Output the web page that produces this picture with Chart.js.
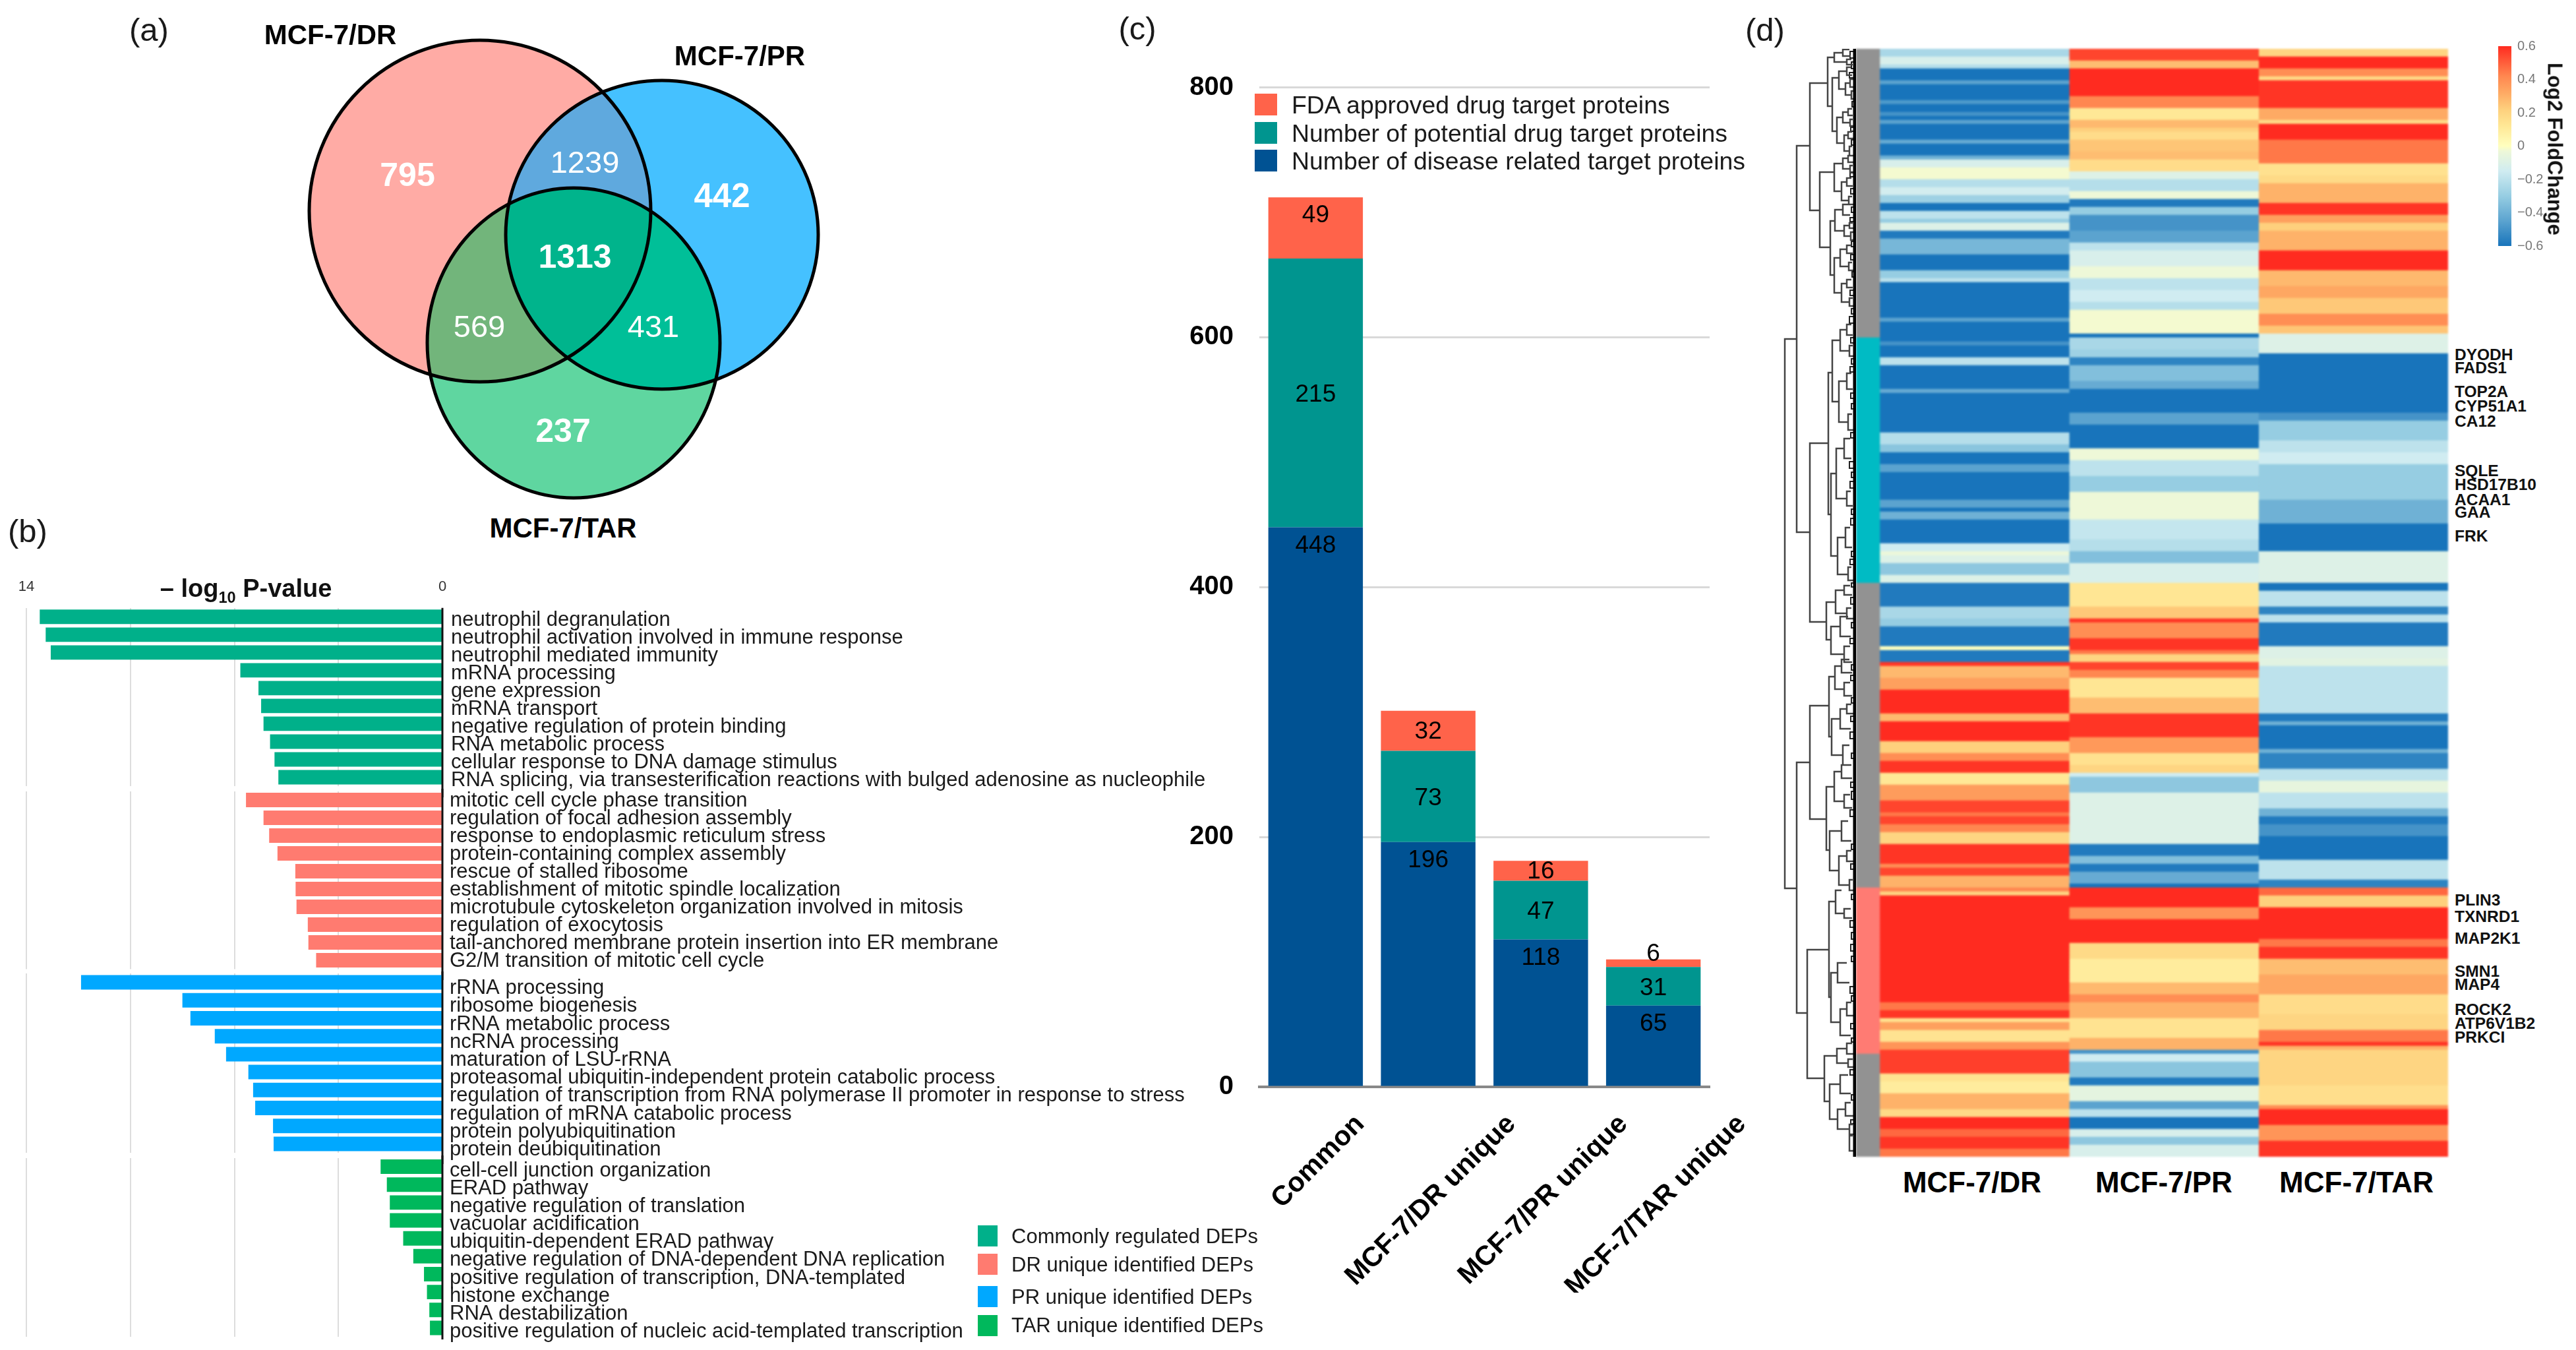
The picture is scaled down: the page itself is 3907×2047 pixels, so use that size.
<!DOCTYPE html>
<html>
<head>
<meta charset="utf-8">
<script src="https://cdn.jsdelivr.net/npm/chart.js@4"></script>
<style>
  html, body { margin: 0; padding: 0; background: #fff; }
  #page { position: relative; width: 3907px; height: 2047px; overflow: hidden; background: #fff; font-family: "Liberation Sans", Arial, sans-serif; }
  #page canvas { position: absolute; }
  .txt { position: absolute; white-space: nowrap; line-height: 1; }
  .swatch { position: absolute; }
</style>
</head>
<body>
<div id="page"></div>
<script>
// (a) venn
const vennRegions = ["DR", "DR+PR", "PR", "DR+PR+TAR", "DR+TAR", "PR+TAR", "TAR"];
const vennCounts = [795, 1239, 442, 1313, 569, 431, 237];
const vennSets = ["MCF-7/DR", "MCF-7/PR", "MCF-7/TAR"];

// (b) GO terms, one list per facet
const goCommonTerms = ["neutrophil degranulation", "neutrophil activation involved in immune response", "neutrophil mediated immunity", "mRNA processing", "gene expression", "mRNA transport", "negative regulation of protein binding", "RNA metabolic process", "cellular response to DNA damage stimulus", "RNA splicing, via transesterification reactions with bulged adenosine as nucleophile"];
const goCommonP = [13.55, 13.35, 13.18, 6.8, 6.19, 6.1, 6.02, 5.8, 5.65, 5.52];
const goDrTerms = ["mitotic cell cycle phase transition", "regulation of focal adhesion assembly", "response to endoplasmic reticulum stress", "protein-containing complex assembly", "rescue of stalled ribosome", "establishment of mitotic spindle localization", "microtubule cytoskeleton organization involved in mitosis", "regulation of exocytosis", "tail-anchored membrane protein insertion into ER membrane", "G2/M transition of mitotic cell cycle"];
const goDrP = [6.61, 6.02, 5.83, 5.55, 4.95, 4.94, 4.91, 4.53, 4.51, 4.25];
const goPrTerms = ["rRNA processing", "ribosome biogenesis", "rRNA metabolic process", "ncRNA processing", "maturation of LSU-rRNA", "proteasomal ubiquitin-independent protein catabolic process", "regulation of transcription from RNA polymerase II promoter in response to stress", "regulation of mRNA catabolic process", "protein polyubiquitination", "protein deubiquitination"];
const goPrP = [12.16, 8.75, 8.48, 7.66, 7.28, 6.53, 6.37, 6.3, 5.7, 5.68];
const goTarTerms = ["cell-cell junction organization", "ERAD pathway", "negative regulation of translation", "vacuolar acidification", "ubiquitin-dependent ERAD pathway", "negative regulation of DNA-dependent DNA replication", "positive regulation of transcription, DNA-templated", "histone exchange", "RNA destabilization", "positive regulation of nucleic acid-templated transcription"];
const goTarP = [2.08, 1.87, 1.77, 1.77, 1.32, 0.98, 0.62, 0.52, 0.44, 0.42];
const goLegend = ["Commonly regulated DEPs", "DR unique identified DEPs", "PR unique identified DEPs", "TAR unique identified DEPs"];

// (c) target proteins
const targetGroups = ["Common", "MCF-7/DR unique", "MCF-7/PR unique", "MCF-7/TAR unique"];
const diseaseTargets = [448, 196, 118, 65];
const potentialTargets = [215, 73, 47, 31];
const fdaTargets = [49, 32, 16, 6];
const targetLegend = ["FDA approved drug target proteins", "Number of potential drug target proteins", "Number of disease related target proteins"];

// (d) heatmap, bands read top to bottom: last row of band + Log2 fold change
const drEnds = [2,4,5,8,9,13,14,16,17,18,19,23,24,27,28,30,33,35,37,39,41,43,44,46,48,52,56,58,59,68,69,74,75,78,80,86,87,97,100,102,105,107,114,116,117,119,125,127,128,130,133,135,141,144,146,151,152,155,156,159,162,168,170,175,178,180,183,186,190,193,194,196,198,201,206,207,209,212,213,214,241,243,245,246,248,251,253,259,261,264,268,270,273,275,278,280];
const drVals = [-.25,-.12,-.22,-.6,-.45,-.6,-.48,-.6,-.5,-.6,-.45,-.6,-.42,-.6,-.4,-.12,-.02,-.22,-.14,-.28,-.6,-.2,-.3,-.1,-.58,-.38,-.6,-.3,-.2,-.6,-.45,-.6,-.5,-.6,-.2,-.6,-.42,-.6,-.22,-.33,-.6,-.45,-.6,-.45,-.6,-.4,-.6,-.15,-.04,-.1,-.32,-.1,-.58,-.25,-.3,-.58,0,-.58,.58,.28,.35,.6,.28,.6,.22,.4,.58,.12,.36,.55,.45,.55,.42,.2,.58,.4,.55,.3,.42,.2,.6,.45,.58,.15,.35,.14,.38,.56,.14,.1,.3,.18,.6,.48,.58,.45];
const prEnds = [3,5,12,15,18,20,21,23,26,28,31,33,36,38,40,42,46,49,51,55,58,61,64,66,72,73,76,78,80,84,86,92,95,101,104,108,112,119,124,127,130,135,141,144,145,149,152,153,155,157,159,164,168,174,178,181,183,184,188,201,204,206,208,211,212,217,220,226,230,236,239,241,245,250,253,254,256,260,262,266,268,270,273,275,277,280];
const prVals = [.55,.27,.6,.42,.12,.28,.22,.17,.25,.27,.17,-.1,-.22,-.03,-.58,-.3,-.5,-.45,-.2,-.12,-.03,-.2,-.15,-.22,-.02,-.6,-.25,-.28,-.55,-.35,-.42,-.6,-.45,-.6,-.03,-.2,-.3,-.03,-.18,-.22,-.35,-.12,.13,.24,.58,.4,.58,.45,.2,.55,.42,.13,.27,.58,.37,.15,.2,-.15,-.32,-.1,-.58,-.35,-.58,-.42,-.6,.6,.38,.6,.18,.1,.28,.4,.3,.14,.3,-.5,-.15,-.33,-.58,-.07,-.45,-.2,-.6,-.12,-.32,-.12];
const tarEnds = [2,5,7,8,15,18,19,23,29,32,34,39,42,44,46,51,56,60,63,67,70,72,77,92,94,99,102,105,114,120,127,135,137,141,143,145,151,154,156,168,170,171,177,178,182,185,188,192,194,196,199,205,210,212,214,217,225,227,230,234,239,244,248,251,252,253,262,267,268,272,276,280];
const tarVals = [.2,.6,.4,.18,.58,.32,.18,.6,.45,.15,.18,.3,.58,.35,.22,.3,.6,.28,.33,.24,.4,.25,-.1,-.6,-.5,-.3,-.2,-.15,-.3,-.4,-.6,-.1,-.6,-.2,-.55,-.2,-.58,-.1,-.08,-.2,-.58,-.4,-.6,-.4,-.55,-.2,-.06,-.2,-.4,-.58,-.5,-.6,-.2,-.55,.48,.22,.6,.45,.58,.27,.33,.17,.2,.45,.58,.3,.2,.16,.4,.6,.38,.58];
const clusterEnds = [73, 135, 212, 254, 280];
const clusterColors = ["#929292", "#00BBC4", "#929292", "#FF7B73", "#929292"];
const heatColumns = ["MCF-7/DR", "MCF-7/PR", "MCF-7/TAR"];
const foldTicks = [-0.6, -0.4, -0.2, 0, 0.2, 0.4, 0.6];
const genesA = ["DYODH", "FADS1", "TOP2A", "CYP51A1", "CA12", "SQLE", "HSD17B10", "ACAA1", "GAA", "FRK"];
const genesB = ["PLIN3", "TXNRD1", "MAP2K1", "SMN1", "MAP4", "ROCK2", "ATP6V1B2", "PRKCI"];

// dendrogram links: distance, top leaf pos, bottom leaf pos, distance of top child, of bottom child
const dendroLinks = [
  [108,514,1347,90,90],[90,221,807,70,70],[70,126,319,43,55],[43,87,161,33,36],[33,80,94,20,14],
  [36,118,199,26,29],[26,108,135,14,16],[29,178,217,20,18],[55,261,375,33,39],[33,248,290,20,22],
  [39,335,417,32,33],[32,318,350,20,18],[33,391,444,24,22],[70,672,943,42,45],[42,565,780,36,38],
  [36,516,609,24,26],[38,718,843,30,28],[45,913,970,31,38],[31,895,930,18,14],[38,950,992,24,18],
  [90,1156,1536,70,74],[70,1070,1242,41,45],[41,1026,1117,32,37],[32,1010,1045,22,18],[37,1090,1145,24,20],
  [45,1193,1289,33,40],[33,1170,1215,22,18],[40,1260,1320,22,26],[74,1440,1635,41,48],[41,1367,1512,31,38],
  [31,1350,1385,22,18],[38,1475,1550,28,24],[48,1601,1670,29,40],[29,1590,1612,14,12],[40,1644,1697,24,28],
  [20,75,85,10,8],[14,90,98,7,5],[14,102,114,8,6],[16,126,144,9,7],[9,120,132,4,4],[7,138,150,4,4],
  [20,170,186,12,9],[12,165,175,6,5],[9,181,191,5,4],[18,205,229,12,10],[12,200,210,6,4],[10,222,236,6,4],
  [20,240,256,12,9],[12,236,246,6,4],[9,251,261,5,4],[22,276,304,14,11],[14,270,282,7,5],[11,298,310,6,4],
  [20,310,326,12,9],[18,342,358,10,8],[10,338,346,5,4],[8,352,364,4,4],[24,378,404,14,11],[14,372,384,7,5],
  [11,398,410,6,4],[22,430,458,14,10],[14,424,436,7,5],[10,452,464,5,4],[24,500,532,14,10],[14,492,508,7,5],
  [10,524,540,5,4],[26,578,640,14,12],[14,566,590,7,5],[12,628,652,6,4],[30,680,756,18,14],[18,665,695,9,7],
  [14,745,767,8,5],[28,815,871,16,12],[16,800,830,9,6],[12,860,880,7,4],[18,888,902,9,6],[14,922,938,7,4],
  [24,935,965,12,8],[18,980,1004,9,6],[22,1000,1020,10,6],[18,1035,1055,9,6],[24,1075,1105,14,8],[14,1068,1082,7,4],
  [20,1130,1160,10,7],[22,1160,1180,10,6],[18,1205,1225,9,6],[22,1245,1275,12,7],[26,1298,1342,14,10],[14,1290,1306,7,4],
  [10,1334,1350,5,4],[18,1378,1392,8,6],[28,1460,1490,14,10],[24,1530,1570,14,8],[14,1520,1540,7,4],[14,1582,1598,6,4],
  [12,1606,1618,5,4],[24,1630,1658,12,8],[28,1682,1712,16,10],[16,1672,1692,8,4],[10,1705,1720,5,4],[10,1722,1745,5,3]
];
// finest twigs next to the leaves
const dendroTwigs = [
  [9,78,88,3,3],[7,94,104,3,3],[10,110,118,4,3],[6,154,162,3,3],[8,193,199,3,3],[7,212,220,3,3],[9,262,268,4,3],[8,286,294,3,3],
  [7,314,322,3,3],[9,330,336,4,3],[7,366,374,3,3],[8,386,394,3,3],[6,412,420,3,3],[9,440,448,4,3],[7,468,476,3,3],[10,480,490,4,3],
  [8,512,520,3,3],[7,544,552,3,3],[9,556,564,4,3],[8,596,604,3,3],[7,612,620,3,3],[8,656,664,3,3],[10,700,710,4,3],[7,716,724,3,3],
  [9,730,740,4,3],[7,772,780,3,3],[8,786,796,3,3],[7,836,844,3,3],[9,848,856,4,3],[7,884,890,3,3],[8,906,916,3,3],[7,944,952,3,3],
  [9,968,976,4,3],[7,1008,1016,3,3],[8,1024,1032,3,3],[7,1058,1066,3,3],[8,1086,1094,3,3],[9,1110,1120,4,3],[7,1142,1150,3,3],[8,1186,1194,3,3],
  [7,1200,1212,3,3],[9,1228,1238,4,3],[7,1280,1288,3,3],[8,1310,1318,3,3],[7,1356,1364,3,3],[9,1396,1406,4,3],[7,1414,1424,3,3],[8,1432,1442,3,3],
  [7,1450,1458,3,3],[9,1496,1506,4,3],[7,1510,1518,3,3],[8,1552,1560,3,3],[7,1574,1580,3,3],[9,1622,1630,4,3],[7,1660,1668,3,3],[8,1698,1704,3,3]
];

const FONT = '"Liberation Sans", Arial, sans-serif';
Chart.defaults.font.family = FONT;
Chart.defaults.animation = false;
Chart.defaults.responsive = false;
Chart.defaults.devicePixelRatio = 1;
Chart.defaults.plugins.legend.display = false;
Chart.defaults.plugins.tooltip.enabled = false;

const page = document.getElementById("page");

function addCanvas(left, top, width, height) {
  const c = document.createElement("canvas");
  c.width = width;
  c.height = height;
  c.style.left = left + "px";
  c.style.top = top + "px";
  c.style.width = width + "px";
  c.style.height = height + "px";
  page.appendChild(c);
  return c;
}

// anchor: "c" centre on x,y / "l" left edge at x, centred on y
function addText(html, x, y, size, opts = {}) {
  const d = document.createElement("div");
  d.className = "txt";
  d.innerHTML = html;
  d.style.left = x + "px";
  d.style.top = y + "px";
  d.style.fontSize = size + "px";
  d.style.fontWeight = opts.bold ? "bold" : "normal";
  d.style.color = opts.color || "#1a1a1a";
  const rot = opts.rotate ? " rotate(" + opts.rotate + "deg)" : "";
  d.style.transform = (opts.anchor === "l" ? "translate(0,-50%)" : "translate(-50%,-50%)") + rot;
  page.appendChild(d);
}

function addSwatch(x, y, w, h, color) {
  const d = document.createElement("div");
  d.className = "swatch";
  d.style.cssText = `left:${x}px;top:${y}px;width:${w}px;height:${h}px;background:${color}`;
  page.appendChild(d);
}

// y axis tick labels must not pull the plot area in
function noLabelPadding(scale) {
  scale.paddingTop = 0;
  scale.paddingBottom = 0;
}

addText("(a)", 226, 45, 49);
addText("(b)", 42, 805, 49);
addText("(c)", 1725, 43, 49);
addText("(d)", 2677, 45, 49);

// ---------- (a) venn ----------
const vennShapes = {
  dr: { cx: 728, cy: 320, rx: 259, ry: 259, fill: "#FFABA5" },
  pr: { cx: 1004, cy: 356, rx: 237, ry: 234, fill: "#45C1FF" },
  tar: { cx: 870, cy: 520, rx: 222, ry: 235, fill: "#5FD6A0" }
};
const vennSpots = [[618, 268, 50, true], [887, 249, 47, false], [1095, 300, 51, true], [872, 392, 50, true], [727, 498, 47, false], [991, 498, 47, false], [854, 656, 50, true]];

const vennPlugin = {
  id: "venn",
  beforeDatasetsDraw(chart) {
    const { ctx, scales: { x, y } } = chart;
    const path = (s) => {
      ctx.beginPath();
      ctx.ellipse(x.getPixelForValue(s.cx), y.getPixelForValue(s.cy), s.rx, s.ry, 0, 0, Math.PI * 2);
    };
    const overlap = (list, color) => {
      ctx.save();
      list.forEach((s) => { path(s); ctx.clip(); });
      ctx.fillStyle = color;
      ctx.fillRect(0, 0, chart.width, chart.height);
      ctx.restore();
    };
    const { dr, pr, tar } = vennShapes;
    [dr, pr, tar].forEach((s) => { path(s); ctx.fillStyle = s.fill; ctx.fill(); });
    overlap([dr, pr], "#5FA9DE");
    overlap([dr, tar], "#72B57B");
    overlap([pr, tar], "#00BF98");
    overlap([dr, pr, tar], "#00B48C");
    ctx.strokeStyle = "#000";
    ctx.lineWidth = 5;
    [dr, pr, tar].forEach((s) => { path(s); ctx.stroke(); });
  },
  afterDatasetsDraw(chart) {
    const { ctx, scales: { x, y } } = chart;
    ctx.fillStyle = "#fff";
    ctx.textAlign = "center";
    ctx.textBaseline = "middle";
    chart.data.datasets[0].data.forEach((p, i) => {
      const spot = vennSpots[i];
      ctx.font = (spot[3] ? "bold " : "") + spot[2] + "px " + FONT;
      ctx.fillText(p.count, x.getPixelForValue(p.x), y.getPixelForValue(p.y));
    });
  }
};

new Chart(addCanvas(460, 50, 790, 720), {
  type: "scatter",
  data: {
    datasets: [{
      label: "regions",
      data: vennCounts.map((c, i) => ({ x: vennSpots[i][0], y: vennSpots[i][1], count: c, region: vennRegions[i] })),
      pointRadius: 0
    }]
  },
  options: {
    scales: {
      x: { display: false, min: 460, max: 1250 },
      y: { display: false, min: 50, max: 770, reverse: true }
    }
  },
  plugins: [vennPlugin]
});
addText(vennSets[0], 501, 53, 42, { bold: true, color: "#000" });
addText(vennSets[1], 1122, 85, 42, { bold: true, color: "#000" });
addText(vennSets[2], 854, 801, 42, { bold: true, color: "#000" });

// ---------- (b) GO facets ----------
const axisLinePlugin = {
  id: "axisLine",
  afterDraw(chart, args, opts) {
    const { ctx, scales: { x }, chartArea } = chart;
    const px = x.getPixelForValue(0);
    ctx.save();
    ctx.strokeStyle = "#111";
    ctx.lineWidth = 3;
    ctx.beginPath();
    ctx.moveTo(px, opts.first ? chartArea.top : 0);
    ctx.lineTo(px, opts.last ? chartArea.bottom + 4 : chart.height);
    ctx.stroke();
    ctx.restore();
  }
};

// canvases overlap by labelRoom so the shifted last label keeps its descenders
const labelRoom = 13;

function goFacet(top, bottom, padTop, padBottom, terms, values, color, idx, labelShift) {
  const first = idx === 0;
  const last = idx === 3;
  return new Chart(addCanvas(0, top, 1900, bottom - top + labelRoom), {
    type: "bar",
    data: {
      labels: terms,
      datasets: [{ data: values, backgroundColor: color, barPercentage: 0.81, categoryPercentage: 1 }]
    },
    options: {
      indexAxis: "y",
      layout: { padding: { left: 40, top: padTop, bottom: padBottom + labelRoom } },
      scales: {
        x: {
          position: "top",
          min: 0,
          max: 14,
          reverse: true,
          border: { display: false },
          grid: { color: "#DDDDDD", lineWidth: 2, drawTicks: false },
          ticks: {
            display: first,
            stepSize: 3.5,
            padding: 19,
            maxRotation: 0,
            autoSkip: false,
            font: { size: 22 },
            color: "#333",
            callback: (v) => (v === 14 || v === 0 ? String(v) : "")
          },
          afterFit(scale) { scale.height = first ? 51.8 : 0; scale.paddingLeft = 0; scale.paddingRight = 0; }
        },
        y: {
          position: "right",
          border: { display: false },
          grid: { display: false, drawTicks: false },
          ticks: { padding: first ? 13 : 11, autoSkip: false, labelOffset: labelShift, font: { size: 31 }, color: "#1a1a1a" },
          afterFit(scale) { scale.width = 1229; noLabelPadding(scale); }
        }
      },
      plugins: { axisLine: { first, last } }
    },
    plugins: [axisLinePlugin]
  });
}

const goColors = ["#00B08A", "#FF7B70", "#00A8FF", "#00B85C"];
goFacet(870, 1196, 0, 4, goCommonTerms, goCommonP, goColors[0], 0, 5);
goFacet(1196, 1473, 3.5, 3.5, goDrTerms, goDrP, goColors[1], 1, 1);
goFacet(1473, 1752, 3, 4, goPrTerms, goPrP, goColors[2], 2, 9);
goFacet(1752, 2034, 3.5, 7, goTarTerms, goTarP, goColors[3], 3, 6);

addText('&ndash; log<sub style="font-size:.62em;line-height:0">10</sub> P-value', 373, 892, 38, { bold: true, color: "#111" });
[[1858, 1874], [1901, 1917], [1950, 1966], [1994, 2009]].forEach((row, i) => {
  addSwatch(1483, row[0], 30, 32, goColors[i]);
  addText(goLegend[i], 1534, row[1], 31, { anchor: "l" });
});

// ---------- (c) stacked bars ----------
const fdaLabelDy = [26, null, null, -10];

const stackLabelPlugin = {
  id: "stackLabels",
  afterDatasetsDraw(chart) {
    const { ctx, scales: { x, y } } = chart;
    ctx.save();
    ctx.fillStyle = "#000";
    ctx.textAlign = "center";
    ctx.textBaseline = "middle";
    ctx.font = "37px " + FONT;
    targetGroups.forEach((g, i) => {
      const px = x.getPixelForValue(i);
      const t1 = diseaseTargets[i];
      const t2 = t1 + potentialTargets[i];
      const t3 = t2 + fdaTargets[i];
      ctx.fillText(t1, px, y.getPixelForValue(t1) + 28);
      ctx.fillText(potentialTargets[i], px, (y.getPixelForValue(t1) + y.getPixelForValue(t2)) / 2 + 3);
      const dy = fdaLabelDy[i];
      const fy = dy === null ? (y.getPixelForValue(t2) + y.getPixelForValue(t3)) / 2 + 2 : y.getPixelForValue(t3) + dy + 2;
      ctx.fillText(fdaTargets[i], px, fy);
    });
    // slanted group names, centred under each bar
    ctx.font = "bold 41.5px " + FONT;
    ctx.textAlign = "right";
    targetGroups.forEach((g, i) => {
      const w = ctx.measureText(g).width;
      ctx.save();
      ctx.translate(x.getPixelForValue(i) + (w / 2) * Math.SQRT1_2 + 4, y.getPixelForValue(0) + 50);
      ctx.rotate(-Math.PI / 4);
      ctx.fillText(g, 0, 0);
      ctx.restore();
    });
    ctx.restore();
  }
};

new Chart(addCanvas(1780, 100, 880, 1860), {
  type: "bar",
  data: {
    labels: targetGroups,
    datasets: [
      { label: targetLegend[2], data: diseaseTargets, backgroundColor: "#005293" },
      { label: targetLegend[1], data: potentialTargets, backgroundColor: "#00958F" },
      { label: targetLegend[0], data: fdaTargets, backgroundColor: "#FF634A" }
    ]
  },
  options: {
    layout: { padding: { top: 32.6, right: 67, bottom: 312 } },
    datasets: { bar: { barPercentage: 0.84, categoryPercentage: 1 } },
    scales: {
      x: {
        stacked: true,
        grid: { display: false, drawTicks: false },
        border: { color: "#888", width: 4 },
        ticks: { display: false },
        afterFit(scale) { scale.height = 0; }
      },
      y: {
        stacked: true,
        min: 0,
        max: 800,
        border: { display: false },
        grid: { color: (c) => (c.tick.value === 0 ? "rgba(0,0,0,0)" : "#D9D9D9"), lineWidth: 3, drawTicks: false },
        ticks: { stepSize: 200, padding: 39, font: { size: 40, weight: "bold" }, color: "#000" },
        afterFit(scale) { scale.width = 130; noLabelPadding(scale); }
      }
    }
  },
  plugins: [stackLabelPlugin]
});
[[142, "#FF634A"], [185, "#00958F"], [227, "#005293"]].forEach((row, i) => {
  addSwatch(1903, row[0], 34, 33, row[1]);
  addText(targetLegend[i], 1959, row[0] + 18, 37.4, { anchor: "l" });
});

// ---------- (d) heatmap ----------
const foldStops = [[-0.6, [24, 116, 187]], [-0.45, [91, 163, 207]], [-0.3, [150, 205, 226]], [-0.15, [208, 236, 241]], [-0.03, [238, 248, 216]], [0, [255, 255, 191]], [0.12, [255, 232, 150]], [0.22, [254, 208, 125]], [0.32, [254, 170, 100]], [0.42, [255, 135, 80]], [0.6, [255, 43, 32]]];

function foldColor(v) {
  for (let i = 1; i < foldStops.length; i++) {
    const [b, cb] = foldStops[i];
    if (v <= b) {
      const [a, ca] = foldStops[i - 1];
      const t = Math.max(0, (v - a) / (b - a));
      const mix = ca.map((c, k) => Math.round(c + (cb[k] - c) * t));
      return `rgb(${mix[0]},${mix[1]},${mix[2]})`;
    }
  }
  return "rgb(255,43,32)";
}

function expandBands(ends, vals) {
  const rows = [];
  ends.forEach((e, i) => { while (rows.length < e) rows.push(vals[i]); });
  return rows;
}

const rowCount = 280;
const rowLabels = Array.from({ length: rowCount }, (_, i) => i);
const heatSet = (name, ends, vals) => ({
  label: name,
  data: rowLabels.map(() => 1),
  backgroundColor: expandBands(ends, vals).map(foldColor)
});

const heatCanvas = addCanvas(2815, 74, 898, 1680);
heatCanvas.style.filter = "blur(1.5px)";
new Chart(heatCanvas, {
  type: "bar",
  data: {
    labels: rowLabels,
    datasets: [
      { label: "cluster", data: rowLabels.map(() => 0.125), backgroundColor: expandBands(clusterEnds, clusterColors) },
      heatSet(heatColumns[0], drEnds, drVals),
      heatSet(heatColumns[1], prEnds, prVals),
      heatSet(heatColumns[2], tarEnds, tarVals)
    ]
  },
  options: {
    indexAxis: "y",
    datasets: { bar: { barPercentage: 1, categoryPercentage: 1, borderWidth: 0 } },
    scales: {
      x: { display: false, stacked: true, min: 0, max: 3.125 },
      y: { display: false, stacked: true }
    }
  }
});

// dendrogram, through its own distance / leaf position scales
const dendroPoints = (links) => {
  const pts = [];
  links.forEach(([d, y1, y2, d1, d2]) => {
    pts.push({ x: d1, y: y1 }, { x: d, y: y1 }, { x: d, y: y2 }, { x: d2, y: y2 }, { x: NaN, y: NaN });
  });
  return pts;
};

new Chart(addCanvas(2705, 74, 110, 1680), {
  type: "scatter",
  data: {
    datasets: [
      { data: [{ x: 2, y: 74 }, { x: 2, y: 1754 }], showLine: true, pointRadius: 0, borderColor: "#000", borderWidth: 5 },
      { data: dendroPoints(dendroLinks), showLine: true, spanGaps: false, pointRadius: 0, borderColor: "#444", borderWidth: 2.5 },
      { data: dendroPoints(dendroTwigs), showLine: true, spanGaps: false, pointRadius: 0, borderColor: "#222", borderWidth: 2 }
    ]
  },
  options: {
    scales: {
      x: { display: false, min: 0, max: 110, reverse: true },
      y: { display: false, min: 74, max: 1754, reverse: true }
    }
  }
});

addText(heatColumns[0], 2991, 1793, 44, { bold: true, color: "#000" });
addText(heatColumns[1], 3282, 1793, 44, { bold: true, color: "#000" });
addText(heatColumns[2], 3574, 1793, 44, { bold: true, color: "#000" });

[538, 558, 594, 616, 639, 714, 735, 758, 777, 813].forEach((y, i) => addText(genesA[i], 3723, y, 24.5, { bold: true, anchor: "l", color: "#111" }));
[1365, 1390, 1423, 1473, 1493, 1531, 1552, 1573].forEach((y, i) => addText(genesB[i], 3723, y, 24.5, { bold: true, anchor: "l", color: "#111" }));

// colour bar
new Chart(addCanvas(3780, 50, 90, 343), {
  type: "bar",
  data: {
    labels: ["fold"],
    datasets: [{
      data: [[foldTicks[0], foldTicks[6]]],
      barPercentage: 1,
      categoryPercentage: 1,
      backgroundColor(ctx) {
        const area = ctx.chart.chartArea;
        if (!area) return "#fff";
        const g = ctx.chart.ctx.createLinearGradient(0, area.bottom, 0, area.top);
        foldStops.forEach(([v]) => g.addColorStop((v + 0.6) / 1.2, foldColor(v)));
        return g;
      }
    }]
  },
  options: {
    layout: { padding: { left: 9, top: 20, bottom: 20 } },
    scales: {
      x: { display: false },
      y: {
        position: "right",
        min: foldTicks[0],
        max: foldTicks[6],
        border: { display: false },
        grid: { display: false, drawTicks: false },
        ticks: {
          stepSize: 0.2,
          padding: 9,
          font: { size: 20 },
          color: "#777",
          callback: (v) => (Math.abs(v) < 1e-6 ? "0" : (v < 0 ? "\u2212" : "") + Math.abs(v).toFixed(1))
        },
        afterFit(scale) { scale.width = 61; noLabelPadding(scale); }
      }
    }
  }
});
addText("Log2 FoldChange", 3875, 226, 31, { bold: true, color: "#111", rotate: 90 });
</script>
</body>
</html>
